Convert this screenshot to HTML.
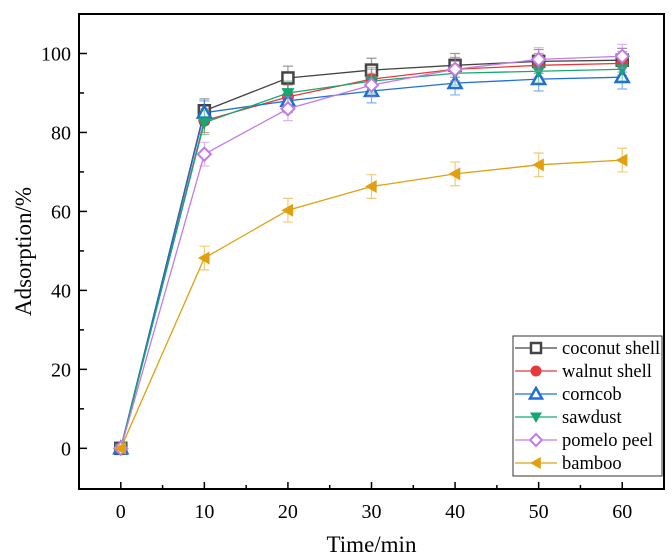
<!DOCTYPE html>
<html><head><meta charset="utf-8"><style>
body{margin:0;background:#fff;}
svg{display:block;font-family:"Liberation Serif",serif;}
</style></head><body>
<svg id="chart" width="672" height="560" viewBox="0 0 672 560"></svg>
<script>
const times=[0,10,20,30,40,50,60];
const seriesNames=["coconut shell","walnut shell","corncob","sawdust","pomelo peel","bamboo"];
const coconut=[0,85.5,93.8,95.8,97,98,98.3];
const walnut=[0,83,89,93.5,96,97,97.5];
const corncob=[0,85,88,90.5,92.5,93.5,94];
const sawdust=[0,82.5,90,93,95,95.5,96];
const pomelo=[0,74.5,86,92,96,98.5,99.3];
const bamboo=[0,48.2,60.3,66.3,69.5,71.8,73];
const errs=[0.8,3,3,3,3,3,3];
const xTicks=[0,10,20,30,40,50,60];
const yTicks=[0,20,40,60,80,100];
const colors=["#444444","#e8393a","#1f6fd6","#16a870","#c47ae6","#e0a010"];
const markers=["square","circle","tri-up","tri-down","diamond","tri-left"];
const allData=[coconut,walnut,corncob,sawdust,pomelo,bamboo];

const L=79,R=664,T=14,B=489;
const xMin=-5,xMax=65,yMin=-10.3,yMax=110;
const xs=v=>L+(v-xMin)/(xMax-xMin)*(R-L);
const ys=v=>B-(v-yMin)/(yMax-yMin)*(B-T);
const svg=document.getElementById('chart');
const NS="http://www.w3.org/2000/svg";
function mk(tag,attrs,parent){const e=document.createElementNS(NS,tag);for(const k in attrs)e.setAttribute(k,attrs[k]);(parent||svg).appendChild(e);return e;}

xTicks.forEach((t,i)=>{
  const x=xs(t);
  const tk=mk('line',{x1:x,x2:x,y1:B,y2:B-7,stroke:'#000','stroke-width':1.5});
  
  
  const tx=mk('text',{x:x,y:B+29,'text-anchor':'middle','font-size':20});
  tx.textContent=t;
  
  
  if(i<xTicks.length-1){const mx=xs(t+5);const m=mk('line',{x1:mx,x2:mx,y1:B,y2:B-4,stroke:'#000','stroke-width':1.5});
  
  }
});
yTicks.forEach((t,i)=>{
  const y=ys(t);
  const tk=mk('line',{x1:L,x2:L+8,y1:y,y2:y,stroke:'#000','stroke-width':1.5});
  
  
  const tx=mk('text',{x:L-8,y:y+7,'text-anchor':'end','font-size':20});
  tx.textContent=t;
  
  
  const my=ys(t+10);
  if(t+10<yMax){const m=mk('line',{x1:L,x2:L+5,y1:my,y2:my,stroke:'#000','stroke-width':1.5});
  
  }
});
const frame=mk('rect',{x:L,y:T,width:R-L,height:B-T,fill:'none',stroke:'#000','stroke-width':2});



const xt=mk('text',{x:(L+R)/2,y:552,'text-anchor':'middle','font-size':23});
xt.textContent='Time/min';


const yt=mk('text',{x:0,y:0,'text-anchor':'middle','font-size':23,transform:`translate(31,${(T+B)/2}) rotate(-90)`});
yt.textContent='Adsorption/%';



function marker(type,x,y,c,g,s){
  s=s||6.5;
  let e;
  if(type==='square')e=mk('rect',{x:x-s+1,y:y-s+1,width:2*s-2,height:2*s-2,fill:'#fff',stroke:c,'stroke-width':2.5},g);
  else if(type==='circle')e=mk('circle',{cx:x,cy:y,r:s-0.5,fill:c},g);
  else if(type==='tri-up')e=mk('polygon',{points:`${x},${y-s} ${x-s},${y+s*0.75} ${x+s},${y+s*0.75}`,fill:'#fff',stroke:c,'stroke-width':2.5},g);
  else if(type==='tri-down')e=mk('polygon',{points:`${x},${y+s} ${x-s},${y-s*0.75} ${x+s},${y-s*0.75}`,fill:c},g);
  else if(type==='diamond')e=mk('polygon',{points:`${x},${y-s} ${x+s},${y} ${x},${y+s} ${x-s},${y}`,fill:'#fff',stroke:c,'stroke-width':2},g);
  else e=mk('polygon',{points:`${x-s},${y} ${x+s*0.8},${y-s} ${x+s*0.8},${y+s}`,fill:c},g);
  return e;
}

allData.forEach((d,si)=>{
  const g=mk('g',{});
  
  
  const c=colors[si];
  d.forEach((v,i)=>{
    const x=xs(times[i]),e=errs[i];
    const eb=mk('path',{d:`M${x},${ys(v-e)}V${ys(v+e)}M${x-5},${ys(v-e)}H${x+5}M${x-5},${ys(v+e)}H${x+5}`,stroke:c,'stroke-opacity':0.55,'stroke-width':1.2,fill:'none'},g);
    
    
  });
  const ln=mk('polyline',{points:d.map((v,i)=>xs(times[i])+','+ys(v)).join(' '),fill:'none',stroke:c,'stroke-width':1.3},g);
  
  
  d.forEach((v,i)=>{
    const m=marker(markers[si],xs(times[i]),ys(v),c,g);
    
    
  });
});

const lg=mk('g',{});


mk('rect',{x:513,y:336,width:149,height:140,fill:'#fff',stroke:'#333','stroke-width':1},lg);
seriesNames.forEach((n,i)=>{
  const y=348+i*23;
  const e=mk('g',{},lg);
  
  
  mk('line',{x1:515,x2:557,y1:y,y2:y,stroke:colors[i],'stroke-width':1.3},e);
  marker(markers[i],536,y,colors[i],e,6);
  const t=mk('text',{x:562,y:y+6,'font-size':18.5},e);
  t.textContent=n;
});
</script>
</body></html>
